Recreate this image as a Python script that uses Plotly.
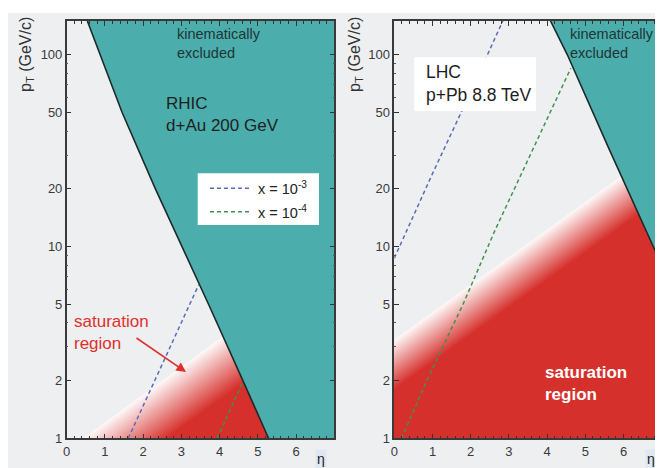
import numpy as np
import plotly.graph_objects as go

# the page body adds an 8px margin; the figure is laid out in reference pixels shifted by it
OFF = 8
W, H = 663 - OFF, 468 - OFF

# ---------------- data ----------------
# kinematic limit (boundary of the excluded region), eta vs pT [GeV/c]
eta_kin_rhic = [0.54, 0.87, 1.45, 2.32, 3.02, 3.71, 4.61, 5.28]
pt_kin_rhic = [150, 100, 50, 20, 10, 5, 2, 1]
eta_kin_lhc = [4.09, 4.53, 5.63, 7.0]
pt_kin_lhc = [150, 100, 32, 8.0]

# lines of constant x
eta_x3_rhic = [1.61, 2.30, 3.00, 3.45]
pt_x3_rhic = [1.0, 2.0, 4.0, 6.3]
eta_x4_rhic = [3.94, 4.27, 4.62]
pt_x4_rhic = [1.0, 1.4, 2.0]
eta_x3_lhc = [0.0, 1.0, 1.75, 2.84]
pt_x3_lhc = [8.7, 24, 50, 150]
eta_x4_lhc = [0.19, 0.85, 1.80, 2.64, 4.62]
pt_x4_lhc = [1.0, 2.0, 5.0, 12.2, 85]

# saturation region: where the shading starts (white edge) and where it is fully red
sat_white_rhic_eta = [0.43, 4.0]
sat_white_rhic_pt = [1.0, 3.3]
sat_full_rhic_eta = [2.6, 4.6]
sat_full_rhic_pt = [1.0, 1.94]
sat_white_lhc_eta = [0.0, 5.86]
sat_white_lhc_pt = [3.26, 22.7]
sat_full_lhc_eta = [0.0, 7.0]
sat_full_lhc_pt = [1.8, 18.0]

x_tickvals = [0, 1, 2, 3, 4, 5, 6]
y_tickvals = [1, 2, 5, 10, 20, 50, 100]
y_minor = [3, 4, 6, 7, 8, 9, 30, 40, 60, 70, 80, 90]
legend_labels = ["x = 10<sup>-3</sup>", "x = 10<sup>-4</sup>"]

# ---------------- style ----------------
TEAL = "#4baead"
RED = (214, 48, 44)
BLUE = "#5a6bb8"
GREEN = "#3f9152"
PAGE = "#eeeff1"
PLOT_BG = "#e9eaee"
FONT = "Liberation Sans, Arial, sans-serif"
DASH = "4px,3px"


def px(x):
    return (x - OFF) / W


def py(y):
    return 1 - (y - OFF) / H


fig = go.Figure()


def line_fit(eta, pt):
    b, a = np.polyfit(np.array(eta, float), np.log10(np.array(pt, float)), 1)
    return a, b


def add_saturation(xa, ya, w_eta, w_pt, f_eta, f_pt, n=45):
    aw, bw = line_fit(w_eta, w_pt)
    af, bf = line_fit(f_eta, f_pt)
    e0, e1 = -1.0, 8.0
    for t in np.linspace(0, 1, n):
        a = (1 - t) * aw + t * af
        b = (1 - t) * bw + t * bf
        s = 0.04 + 0.96 * t
        r = round(255 * (1 - s) + RED[0] * s)
        g = round(255 * (1 - s) + RED[1] * s)
        bl = round(255 * (1 - s) + RED[2] * s)
        fig.add_trace(go.Scatter(
            x=[e0, e1, e1, e0, e0],
            y=[10 ** (a + b * e0), 10 ** (a + b * e1), 0.3, 0.3, 10 ** (a + b * e0)],
            mode="lines", fill="toself", fillcolor=f"rgb({r},{g},{bl})",
            line=dict(width=0), hoverinfo="skip", showlegend=False,
            xaxis=xa, yaxis=ya))


def add_kin(xa, ya, eta, pt):
    fig.add_trace(go.Scatter(
        x=list(eta) + [7, 7, eta[0]], y=list(pt) + [pt[-1], 150, pt[0]],
        mode="lines", fill="toself", fillcolor=TEAL, line=dict(width=0),
        hoverinfo="skip", showlegend=False, xaxis=xa, yaxis=ya))
    fig.add_trace(go.Scatter(
        x=eta, y=pt, mode="lines", line=dict(color="#1e2a2a", width=1.6),
        hoverinfo="skip", showlegend=False, xaxis=xa, yaxis=ya))


def add_dashed(xa, ya, eta, pt, color):
    fig.add_trace(go.Scatter(
        x=eta, y=pt, mode="lines", line=dict(color=color, width=1.5, dash=DASH),
        hoverinfo="skip", showlegend=False, xaxis=xa, yaxis=ya))


# left panel: RHIC
add_saturation("x", "y", sat_white_rhic_eta, sat_white_rhic_pt, sat_full_rhic_eta, sat_full_rhic_pt)
add_kin("x", "y", eta_kin_rhic, pt_kin_rhic)
add_dashed("x", "y", eta_x3_rhic, pt_x3_rhic, BLUE)
add_dashed("x", "y", eta_x4_rhic, pt_x4_rhic, GREEN)

# right panel: LHC
add_saturation("x2", "y2", sat_white_lhc_eta, sat_white_lhc_pt, sat_full_lhc_eta, sat_full_lhc_pt)
add_kin("x2", "y2", eta_kin_lhc, pt_kin_lhc)
add_dashed("x2", "y2", eta_x3_lhc, pt_x3_lhc, BLUE)
add_dashed("x2", "y2", eta_x4_lhc, pt_x4_lhc, GREEN)

tickfont = dict(family=FONT, size=13, color="#3a3a3a")
xax = dict(range=[0, 7], tickvals=x_tickvals, ticks="inside", ticklen=5, tickwidth=1,
           tickcolor="#333", showgrid=False, zeroline=False, showline=True,
           linecolor="#3a3a3a", linewidth=1.5, mirror="allticks", tickfont=tickfont,
           minor=dict(dtick=0.2, ticks="inside", ticklen=3, tickcolor="#333", showgrid=False),
           fixedrange=True, automargin=False)
yax = dict(type="log", range=[0, np.log10(150)], tickvals=y_tickvals, ticks="inside",
           ticklen=5, tickwidth=1, tickcolor="#333", showgrid=False, zeroline=False,
           showline=True, linecolor="#3a3a3a", linewidth=1.5, mirror="allticks",
           tickfont=tickfont,
           minor=dict(tickvals=y_minor, ticks="inside", ticklen=2, tickcolor="#555", showgrid=False),
           fixedrange=True, automargin=False)

yd = [py(438.3), py(21)]
fig.update_layout(
    width=W, height=H, margin=dict(l=0, r=0, t=0, b=0, autoexpand=False),
    paper_bgcolor="white", plot_bgcolor=PLOT_BG, showlegend=False,
    xaxis=dict(xax, domain=[px(66.7), px(334.3)], anchor="y"),
    yaxis=dict(yax, domain=yd, anchor="x"),
    xaxis2=dict(xax, domain=[px(394.3), px(661.7)], anchor="y2"),
    yaxis2=dict(yax, domain=yd, anchor="x2"),
)

shapes = [
    dict(type="rect", xref="paper", yref="paper", x0=px(8), x1=1, y0=0, y1=py(13),
         fillcolor=PAGE, line=dict(width=0), layer="below"),
    # legend box
    dict(type="rect", xref="paper", yref="paper", x0=px(197.7), x1=px(319), y0=py(225), y1=py(173.3),
         fillcolor="white", line=dict(width=0)),
    dict(type="line", xref="paper", yref="paper", x0=px(210), x1=px(252), y0=py(188.3), y1=py(188.3),
         line=dict(color=BLUE, width=1.5, dash=DASH)),
    dict(type="line", xref="paper", yref="paper", x0=px(210), x1=px(252), y0=py(211.7), y1=py(211.7),
         line=dict(color=GREEN, width=1.5, dash=DASH)),
    # LHC label box
    dict(type="rect", xref="paper", yref="paper", x0=px(414.3), x1=px(536), y0=py(111), y1=py(57.3),
         fillcolor="white", line=dict(width=0)),
]
fig.update_layout(shapes=shapes)


def ann(text, x, y, size, color="#222", anchor="left", **kw):
    return dict(text=text, x=px(x), y=py(y), xref="paper", yref="paper", showarrow=False,
                xanchor=anchor, yanchor="middle", align="left",
                font=dict(family=FONT, size=size, color=color), **kw)


RED_TXT = "#e0302c"
annotations = [
    ann("kinematically<br>excluded", 175, 43, 14.5, "#1f3535"),
    ann("RHIC<br>d+Au 200 GeV", 164, 114, 17, "#1e1e1e"),
    ann(legend_labels[0], 256, 188.3, 14.5, "#222"),
    ann(legend_labels[1], 256, 211.7, 14.5, "#222"),
    ann("saturation<br>region", 72, 332, 17, RED_TXT),
    dict(text="", x=px(186), y=py(372), xref="paper", yref="paper", showarrow=True,
         ax=-51, ay=-35, arrowhead=2, arrowsize=1.2, arrowwidth=1.6, arrowcolor=RED_TXT),
    ann("LHC<br>p+Pb 8.8 TeV", 424, 83.5, 17.5, "#1e1e1e"),
    ann("kinematically<br>excluded", 568, 43, 14.5, "#1f3535"),
    ann("<b>saturation</b><br><b>region</b>", 543, 383.5, 17, "white"),
    ann("p<sub>T</sub> (GeV/c)", 27, 55, 16, "#333", anchor="center", textangle=-90),
    ann("p<sub>T</sub> (GeV/c)", 356, 55, 16, "#333", anchor="center", textangle=-90),
    ann("η", 320.5, 459, 14, "#222", anchor="center", bgcolor="#dfe7f1"),
    ann("η", 651, 459, 14, "#222", anchor="center", bgcolor="#dfe7f1"),
]
fig.update_layout(annotations=annotations)

fig.write_html("out.html")
